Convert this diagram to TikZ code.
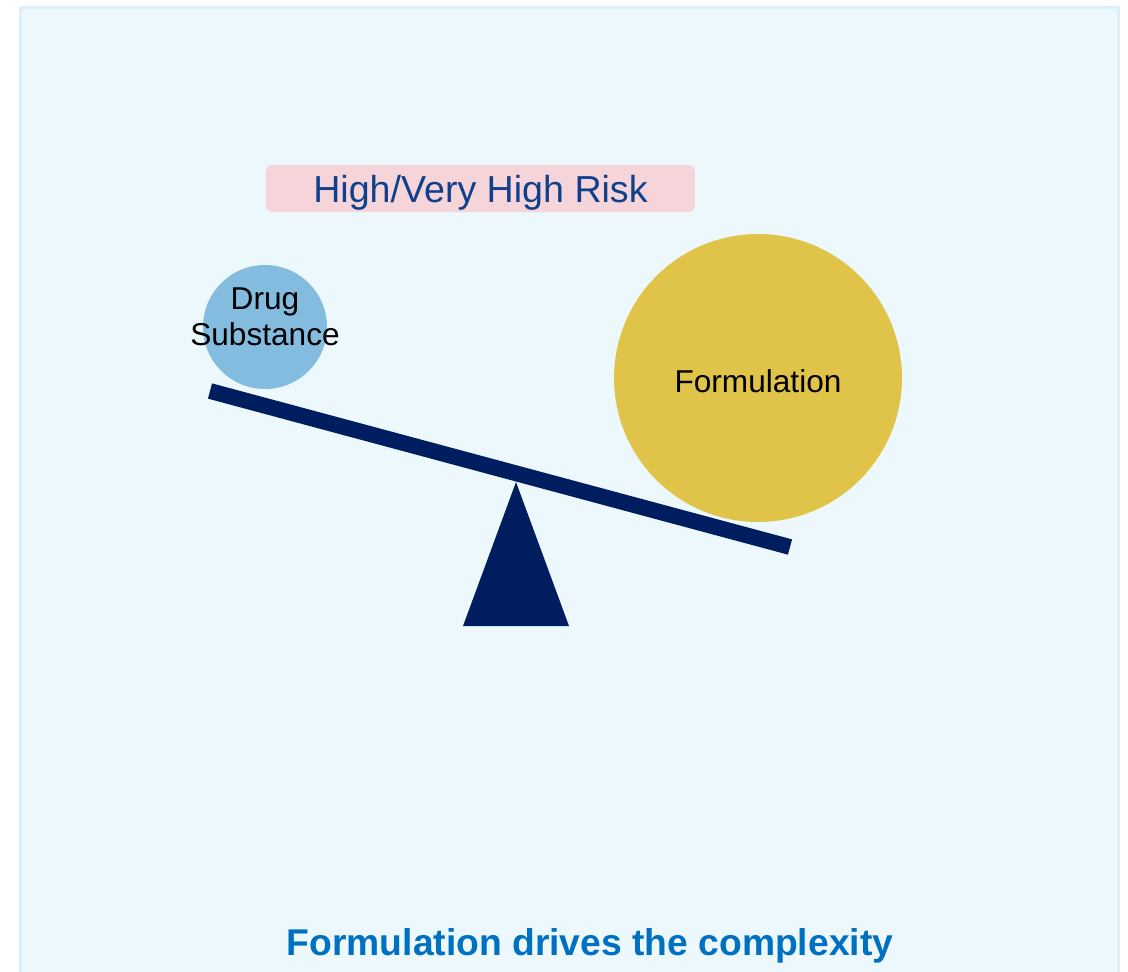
\documentclass[tikz,border=0pt]{standalone}
\usepackage{fontspec}
\setmainfont{Liberation Sans}
\usepackage{tikz}
\usetikzlibrary{calc,positioning,shapes}

\definecolor{panelfill}{RGB}{237,248,253}
\definecolor{panelline}{RGB}{220,240,250}
\definecolor{riskfill}{RGB}{245,213,218}
\definecolor{risktext}{RGB}{16,64,140}
\definecolor{drugblue}{RGB}{132,188,224}
\definecolor{formgold}{RGB}{224,196,74}
\definecolor{navy}{RGB}{0,30,95}
\definecolor{capblue}{RGB}{0,112,192}

\tikzstyle{riskbox}  = [fill=riskfill, rounded corners=3.4pt, minimum width=8.58cm, minimum height=0.94cm]
\tikzstyle{weight}   = [circle, inner sep=0pt]
\tikzstyle{wlabel}   = [align=center, inner sep=0pt, font=\fontsize{18}{20.5}\selectfont]
\tikzstyle{beam}     = [navy, line width=9pt]

\begin{document}
\begin{tikzpicture}[x=0.02cm, y=-0.02cm]
		\useasboundingbox (0,0) rectangle (1128,971);
		\draw[panelline, fill=panelfill, line width=1.7pt] (20.5,7.5) rectangle (1118,1000);

		\node[riskbox] (risk) at (480.5,188.5) {};
		\node[text=risktext, font=\fontsize{21.4}{26}\selectfont] (risktxt) at (480.5,193) {High/Very High Risk};

		% the seesaw
		\coordinate (beamL) at (210,391);
		\coordinate (beamR) at (790,547);
		\draw[beam] (beamL) -- (beamR);
		\fill[navy] (516,482) -- (569,626) -- (463,626) -- cycle;

		\node[weight, fill=drugblue, minimum size=2.48cm] (drug) at (265,327) {};
		\node[wlabel] (drugtxt) at (265,317) {Drug\\Substance};
		\node[weight, fill=formgold, minimum size=5.76cm] (form) at (758,378) {};
		\node[wlabel] (formtxt) at (758,381) {Formulation};

		\node[text=capblue, font=\bfseries\fontsize{21.2}{25}\selectfont] (caption) at (590,946) {Formulation drives the complexity};
	\end{tikzpicture}
\end{document}
